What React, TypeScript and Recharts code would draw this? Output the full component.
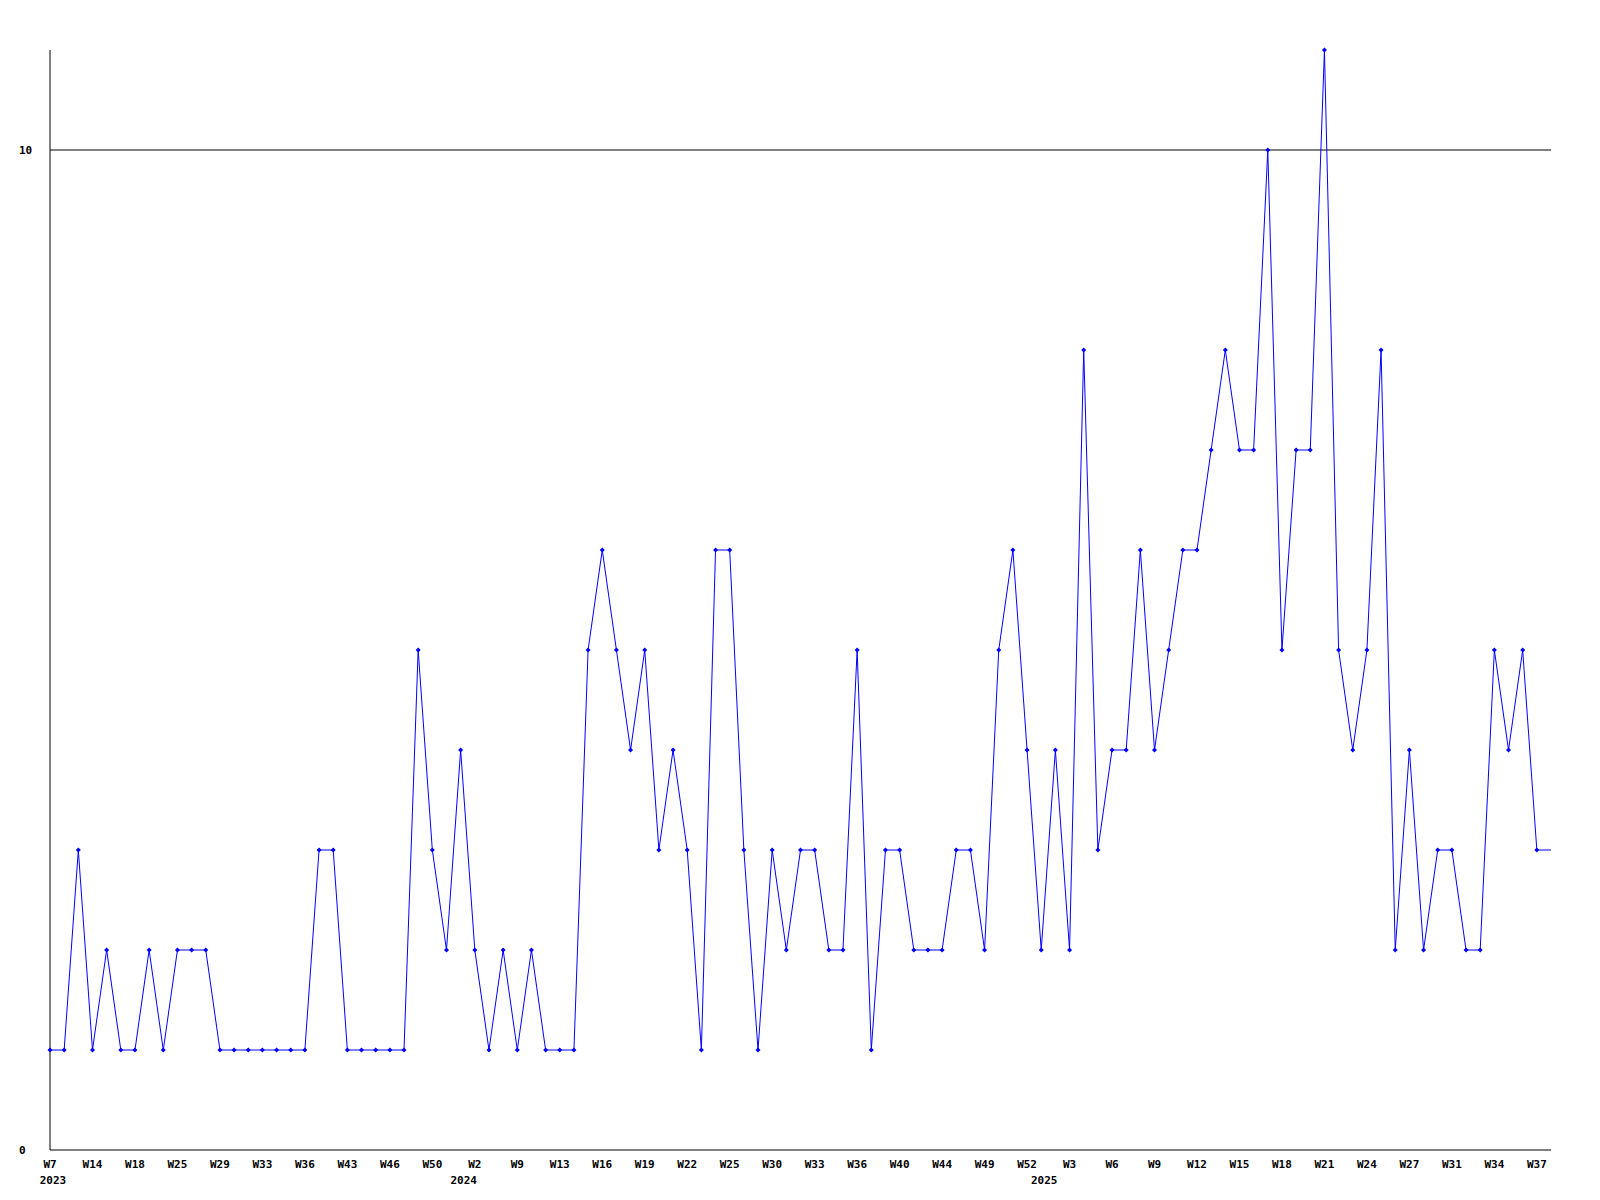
import { Line, LineChart, ReferenceLine, XAxis, YAxis } from 'recharts';

// weekly counts, one point per sample; the last point has no marker
const values = [
  1, 1, 3, 1, 2, 1, 1, 2, 1, 2, 2, 2, 1, 1, 1, 1, 1, 1, 1, 3, 3, 1, 1, 1, 1, 1,
  5, 3, 2, 4, 2, 1, 2, 1, 2, 1, 1, 1, 5, 6, 5, 4, 5, 3, 4, 3, 1, 6, 6, 3, 1, 3,
  2, 3, 3, 2, 2, 5, 1, 3, 3, 2, 2, 2, 3, 3, 2, 5, 6, 4, 2, 4, 2, 8, 3, 4, 4, 6,
  4, 5, 6, 6, 7, 8, 7, 7, 10, 5, 7, 7, 11, 5, 4, 5, 8, 2, 4, 2, 3, 3, 2, 2, 5,
  4, 5, 3, 3,
];

// one label on every third point
const weekTicks = [
  'W7', 'W14', 'W18', 'W25', 'W29', 'W33', 'W36', 'W43', 'W46', 'W50', 'W2', 'W9',
  'W13', 'W16', 'W19', 'W22', 'W25', 'W30', 'W33', 'W36', 'W40', 'W44', 'W49', 'W52',
  'W3', 'W6', 'W9', 'W12', 'W15', 'W18', 'W21', 'W24', 'W27', 'W31', 'W34', 'W37',
];

const yearMarks = [
  { at: 0, label: '2023' },
  { at: 29, label: '2024' },
  { at: 70, label: '2025' },
];

const yTicks = [0, 10];
const gridValue = 10;

const data = values.map((v, i) => ({ key: String(i), value: v }));

const FONT = '"DejaVu Sans Mono", "Liberation Mono", monospace';

const XTick = (props: any) => {
  const { x, y, payload } = props;
  const i = payload.index as number;
  const week = i % 3 === 0 ? weekTicks[i / 3] : undefined;
  const year = yearMarks.find((m) => m.at === i);
  return (
    <g>
      {week && (
        <text x={x} y={y} dy={10} textAnchor="middle" fontFamily={FONT} fontSize={11} fontWeight="bold" fill="#000">
          {week}
        </text>
      )}
      {year && (
        <text x={x + 3} y={y} dy={26} textAnchor="middle" fontFamily={FONT} fontSize={11} fontWeight="bold" fill="#000">
          {year.label}
        </text>
      )}
    </g>
  );
};

const YTick = (props: any) => {
  const { y, payload } = props;
  return (
    <text x={19} y={y} dy={4} textAnchor="start" fontFamily={FONT} fontSize={11} fontWeight="bold" fill="#000">
      {payload.value}
    </text>
  );
};

const Marker = (props: any) => {
  const { cx, cy, index } = props;
  if (index === values.length - 1 || cx == null) return <g key={index} />;
  return (
    <polygon
      key={index}
      points={`${cx},${cy - 2.5} ${cx + 2.5},${cy} ${cx},${cy + 2.5} ${cx - 2.5},${cy}`}
      fill="#0000ff"
      stroke="none"
    />
  );
};

const App = () => {
  return (
    <div style={{ position: 'absolute', left: 0, top: 0, width: 1600, height: 1200, background: '#fff' }}>
      <LineChart width={1600} height={1200} data={data} margin={{ top: 50, right: 49, bottom: 0, left: 0 }}>
        <XAxis
          dataKey="key"
          interval={0}
          tickLine={false}
          axisLine={{ stroke: '#000', strokeWidth: 1 }}
          tick={<XTick />}
          height={50}
        />
        <YAxis
          domain={[0, 11]}
          ticks={yTicks}
          width={50}
          tickLine={false}
          axisLine={{ stroke: '#000', strokeWidth: 1 }}
          tick={<YTick />}
        />
        <ReferenceLine y={gridValue} stroke="#000" strokeWidth={1} />
        <Line
          type="linear"
          dataKey="value"
          stroke="#0000ff"
          strokeWidth={1}
          dot={<Marker />}
          activeDot={false}
          isAnimationActive={false}
        />
      </LineChart>
    </div>
  );
};

export default App;
